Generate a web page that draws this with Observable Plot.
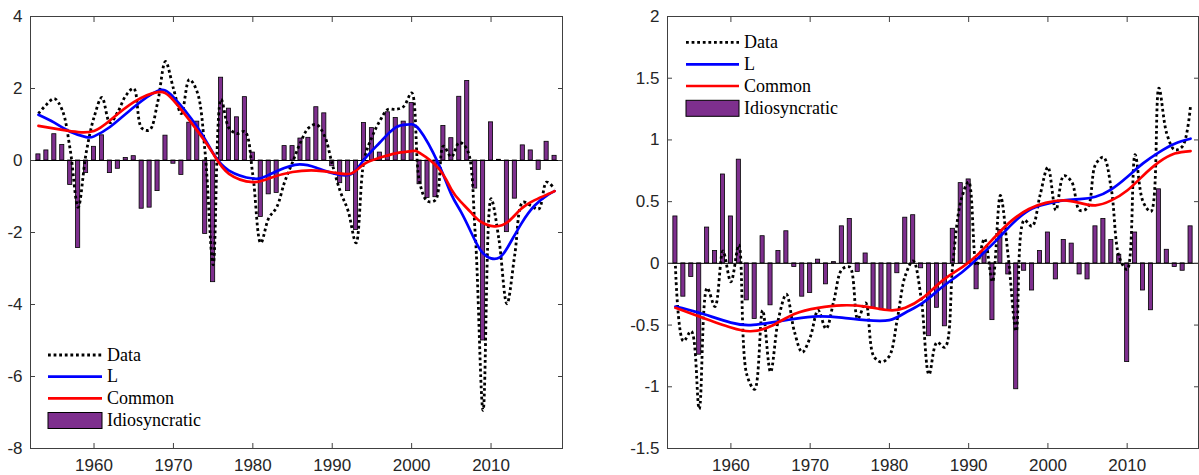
<!DOCTYPE html>
<html><head><meta charset="utf-8">
<script src="https://cdn.jsdelivr.net/npm/d3@7"></script>
<script src="https://cdn.jsdelivr.net/npm/@observablehq/plot@0.6"></script>
<style>
body{margin:0;background:#fff;}
#wrap{position:relative;width:1199px;height:475px;overflow:hidden;background:#fff;}
#wrap svg{position:absolute;top:0;}
</style></head><body><div id="wrap"></div>
<script>
// ---------- DATA ----------
const years = d3.range(1953, 2019);
const xTicks = [1960, 1970, 1980, 1990, 2000, 2010];
const leftYTicks = [-8, -6, -4, -2, 0, 2, 4];
const rightYTicks = [-1.5, -1, -0.5, 0, 0.5, 1, 1.5, 2];

const leftIdio = [0.17,0.28,0.73,0.43,-0.68,-2.43,-0.35,0.38,0.70,-0.35,
  -0.23,0.07,0.12,-1.34,-1.31,-0.85,0.69,-0.09,-0.40,1.05,
  1.08,-2.04,-3.38,2.30,1.44,1.20,1.76,0.22,-1.57,-0.94,
  -0.90,0.40,0.40,0.61,0.63,1.48,1.31,-0.16,-0.63,-0.85,
  -1.93,1.04,0.90,0.22,1.34,1.18,1.08,1.60,-0.66,-1.04,
  -1.02,0.96,0.62,1.77,2.21,-0.78,-5.0,1.06,0.02,-1.99,
  -1.06,0.42,0.28,-0.26,0.52,0.13];
const leftData = [1.3,1.55,1.72,1.4,0.3,-1.3,0.2,1.2,1.75,1.05,
  1.35,1.8,2.0,0.9,0.85,1.6,2.75,2.0,1.3,2.25,
  1.9,0.2,-2.9,1.7,0.9,0.75,0.8,-0.4,-2.29,-1.6,
  -1.3,-0.6,-0.05,0.5,0.9,1.0,0.7,-0.1,-0.85,-1.4,
  -2.29,0.0,0.65,1.1,1.42,1.42,1.5,1.88,-0.6,-1.13,
  -1.1,0.4,0.1,0.5,0.3,-2.0,-6.94,-1.06,-2.2,-3.98,
  -2.6,-1.16,-1.25,-1.35,-0.6,-0.79];
const leftLYears = [1953,1955,1957,1959,1960,1962,1965,1968,1970,1973,1975,1977,1980,1982,1985.3,1988,1990.3,1992.4,1994,1996,1998,1999.6,2001,2003.4,2005,2006.2,2007.5,2008.7,2010,2011.1,2012.1,2013.8,2015.5,2017.2,2018];
const leftL = [1.27,1.05,0.8,0.65,0.67,0.93,1.48,1.93,1.76,0.93,0.2,-0.28,-0.5,-0.4,-0.12,-0.2,-0.37,-0.38,0.02,0.5,0.92,1.0,0.85,-0.1,-0.94,-1.42,-2.0,-2.5,-2.72,-2.69,-2.41,-1.76,-1.25,-0.95,-0.85];
const leftCommonYears = [1953,1956,1958,1960,1962,1965,1968,1970,1973,1975,1977,1980,1982,1985,1988,1990.3,1992.4,1994,1996,1998,2000,2001,2003.4,2005,2006.2,2007.5,2008.7,2010.4,2012.1,2013.8,2015.5,2017.2,2018];
const leftCommon = [0.96,0.85,0.79,0.82,1.11,1.62,1.90,1.67,0.83,0.19,-0.37,-0.6,-0.5,-0.32,-0.28,-0.34,-0.36,-0.1,0.08,0.2,0.26,0.21,-0.22,-0.8,-1.15,-1.45,-1.7,-1.83,-1.71,-1.34,-1.1,-0.93,-0.85];

const rightIdio = [0.38,-0.27,-0.11,-0.74,0.29,0.10,0.72,0.38,0.84,-0.30,
  -0.45,0.22,-0.34,0.10,0.26,-0.03,-0.27,-0.24,0.03,-0.17,
  0.01,0.30,0.36,-0.07,0.08,-0.36,-0.38,-0.38,-0.08,0.37,
  0.39,-0.04,-0.59,-0.36,-0.51,0.28,0.65,0.68,-0.21,0.09,
  -0.46,0.27,-0.09,-1.02,-0.06,-0.22,0.10,0.25,-0.13,0.19,
  0.16,-0.09,-0.13,0.30,0.36,0.19,0.07,-0.80,0.25,-0.22,
  -0.38,0.60,0.11,-0.03,-0.06,0.30];
const rightData = [-0.02,-0.63,-0.55,-1.18,-0.2,-0.35,0.1,-0.15,0.15,-0.9,
  -1.02,-0.38,-0.88,-0.45,-0.25,-0.55,-0.72,-0.6,-0.38,-0.53,
  -0.3,-0.05,-0.03,-0.45,-0.32,-0.75,-0.8,-0.75,-0.45,-0.1,
  0.02,-0.28,-0.9,-0.64,-0.68,0.0,0.5,0.66,-0.02,0.2,
  -0.15,0.55,0.05,-0.55,0.35,0.3,0.55,0.78,0.43,0.71,
  0.66,0.43,0.45,0.8,0.86,0.6,0.05,-0.05,0.88,0.5,
  0.42,1.42,1.05,0.92,0.95,1.28];
const rightLYears = [1953,1956,1960,1962.5,1965,1968,1971,1974,1977,1980,1982,1984.2,1986.7,1989.2,1991.3,1993.4,1995.5,1997.6,1999.7,2002,2004,2006,2008,2010,2012,2014,2016,2018];
const rightL = [-0.35,-0.40,-0.48,-0.50,-0.48,-0.45,-0.43,-0.44,-0.46,-0.46,-0.40,-0.32,-0.19,-0.07,0.05,0.18,0.32,0.43,0.48,0.51,0.52,0.54,0.60,0.70,0.81,0.90,0.97,1.01];
const rightCommonYears = rightLYears;
const rightCommon = [-0.36,-0.43,-0.52,-0.55,-0.51,-0.41,-0.36,-0.34,-0.35,-0.38,-0.36,-0.28,-0.14,-0.03,0.08,0.22,0.35,0.44,0.49,0.51,0.49,0.47,0.51,0.59,0.71,0.82,0.89,0.91];

const legendLabels = ["Data", "L", "Common", "Idiosyncratic"];

// ---------- STYLE ----------
const PURPLE = "#7e2f8e", BLUE = "#0000ff", RED = "#ff0000", AXIS = "#404040";

function panel({width, margins, yDomain, yTicks, idio, data, lYears, lVals, cYears, cVals}) {
  const bars = years.map((yr, i) => ({year: yr, v: idio[i]}));
  const dat = years.map((yr, i) => ({year: yr, v: data[i]}));
  const lPts = lYears.map((yr, i) => ({year: yr, v: lVals[i]}));
  const cPts = cYears.map((yr, i) => ({year: yr, v: cVals[i]}));
  return Plot.plot({
    width, height: 475,
    marginLeft: margins[0], marginRight: margins[1], marginTop: margins[2], marginBottom: margins[3],
    style: {fontFamily: "'Liberation Sans', Arial, sans-serif", fontSize: "17px", color: "#262626", background: "transparent"},
    x: {domain: [1952, 2019]},
    y: {domain: yDomain},
    marks: [
      Plot.rectY(bars, {x1: d => d.year - 0.26, x2: d => d.year + 0.26, y1: 0, y2: "v", fill: PURPLE, stroke: "#000", strokeWidth: 0.8}),
      Plot.ruleY([0], {stroke: "#000", strokeWidth: 1}),
      Plot.line(dat, {x: "year", y: "v", stroke: "#000", strokeWidth: 2.8, strokeDasharray: "2.8,2.8", strokeLinecap: "butt", strokeLinejoin: "miter", curve: "catmull-rom"}),
      Plot.line(lPts, {x: "year", y: "v", stroke: BLUE, strokeWidth: 2.7, curve: "natural"}),
      Plot.line(cPts, {x: "year", y: "v", stroke: RED, strokeWidth: 2.7, curve: "natural"}),
      Plot.frame({stroke: AXIS}),
      Plot.axisX({anchor: "bottom", ticks: xTicks, tickSize: 0, tickPadding: 10, tickFormat: d => String(d), label: null}),
      Plot.axisX({anchor: "bottom", ticks: xTicks, tickSize: -5, fill: "none", stroke: AXIS, label: null}),
      Plot.axisX({anchor: "top", ticks: xTicks, tickSize: -5, fill: "none", stroke: AXIS, label: null}),
      Plot.axisY({anchor: "left", ticks: yTicks, tickSize: 0, tickPadding: 8, tickFormat: d => String(d), label: null}),
      Plot.axisY({anchor: "left", ticks: yTicks, tickSize: -5, fill: "none", stroke: AXIS, label: null}),
      Plot.axisY({anchor: "right", ticks: yTicks, tickSize: -5, fill: "none", stroke: AXIS, label: null})
    ]
  });
}

function addLegend(svg, x0, x1, rows) {
  const g = d3.select(svg).append("g")
    .attr("font-family", "'Liberation Serif', 'Times New Roman', serif")
    .attr("font-size", 18).attr("fill", "#000").attr("text-anchor", "start");
  legendLabels.forEach((lab, i) => {
    const y = rows[i];
    if (i === 3) {
      g.append("rect").attr("x", x0).attr("y", y - 8).attr("width", x1 - x0).attr("height", 16)
        .attr("fill", PURPLE).attr("stroke", "#000").attr("stroke-width", 1);
    } else {
      g.append("line").attr("x1", x0).attr("x2", x1).attr("y1", y).attr("y2", y)
        .attr("stroke", i === 0 ? "#000" : i === 1 ? BLUE : RED)
        .attr("stroke-width", i === 0 ? 2.8 : 2.7)
        .attr("stroke-linecap", "butt")
        .attr("stroke-dasharray", i === 0 ? "2.8,2.8" : null);
    }
    g.append("text").attr("x", x1 + 5).attr("y", y).attr("dy", "0.32em").attr("text-anchor", "start").text(lab);
  });
}

const wrap = document.getElementById("wrap");
const left = panel({width: 600, margins: [30, 38, 16, 27], yDomain: [-8, 4], yTicks: leftYTicks,
  idio: leftIdio, data: leftData, lYears: leftLYears, lVals: leftL, cYears: leftCommonYears, cVals: leftCommon});
left.style.left = "0px";
wrap.appendChild(left);
addLegend(left, 48, 102, [355, 376.7, 398.3, 420.5]);

const right = panel({width: 599, margins: [67, 1, 16, 27], yDomain: [-1.5, 2], yTicks: rightYTicks,
  idio: rightIdio, data: rightData, lYears: rightLYears, lVals: rightL, cYears: rightCommonYears, cVals: rightCommon});
right.style.left = "600px";
wrap.appendChild(right);
addLegend(right, 86, 139, [42.3, 64.3, 86, 108.3]);
</script></body></html>
